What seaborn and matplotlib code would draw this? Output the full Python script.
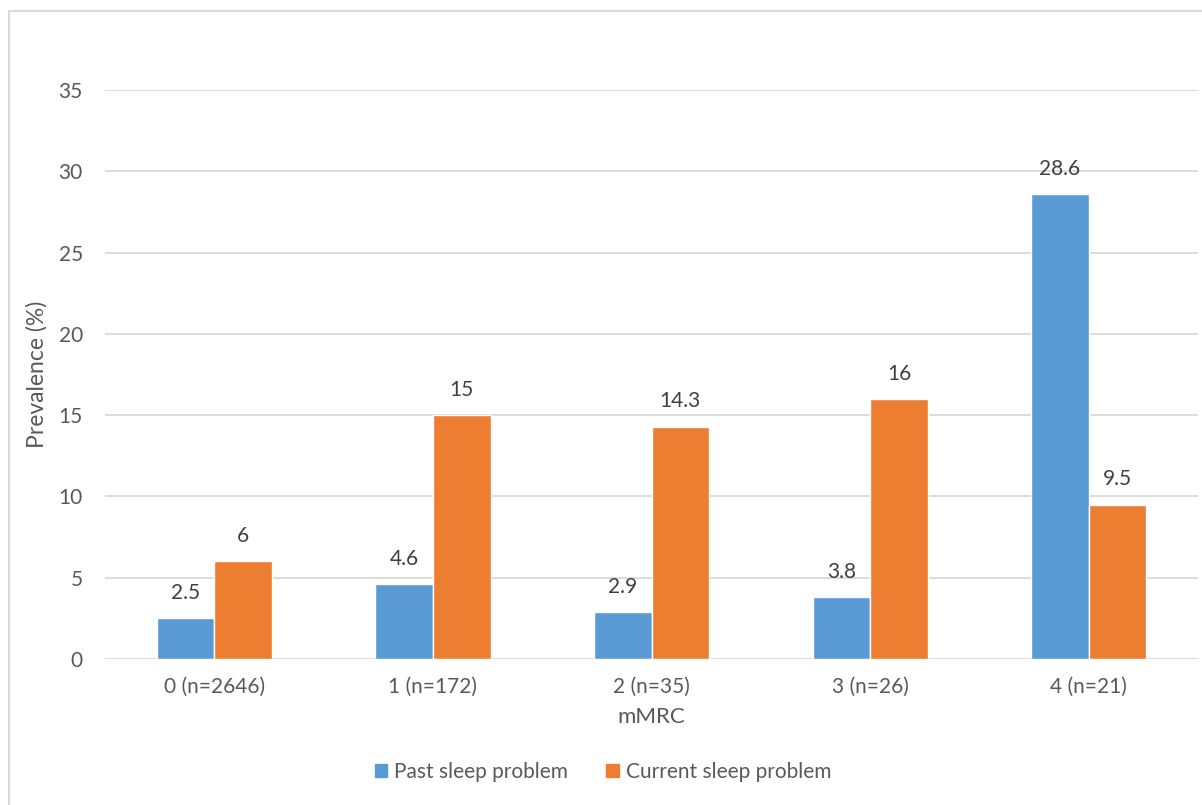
import matplotlib
matplotlib.use("Agg")
import matplotlib.pyplot as plt
import matplotlib.patches as mpatches
import pandas as pd
import seaborn as sns

categories = ['0 (n=2646)', '1 (n=172)', '2 (n=35)', '3 (n=26)', '4 (n=21)']
past_sleep = [2.5, 4.6, 2.9, 3.8, 28.6]
current_sleep = [6, 15, 14.3, 16, 9.5]
series_names = ['Past sleep problem', 'Current sleep problem']
y_ticks = [0, 5, 10, 15, 20, 25, 30, 35]

df = pd.DataFrame({
    'mMRC': categories * 2,
    'prevalence': past_sleep + current_sleep,
    'serie': [series_names[0]] * len(categories) + [series_names[1]] * len(categories),
})

sns.set_theme(style='white')
plt.rcParams['font.family'] = ['Lato', 'DejaVu Sans']
text_color = '#595959'

fig = plt.figure(figsize=(12.02, 8.05), dpi=100)
ax = fig.add_axes([0.0874, 0.1814, 0.9093, 0.7068])

palette = {series_names[0]: '#5B9BD5', series_names[1]: '#ED7D31'}
sns.barplot(data=df, x='mMRC', y='prevalence', hue='serie', palette=palette,
            width=0.527, saturation=1, ax=ax, legend=False)

for cont in ax.containers:
    ax.bar_label(cont, fmt='%g', padding=11, fontsize=15, color='#404040')

ax.set_ylim(0, 35)
ax.set_xlim(-0.5, 4.5)
ax.set_yticks(y_ticks)
ax.yaxis.grid(True, color='#D9D9D9', linewidth=1.3)
ax.set_axisbelow(True)
for s in ax.spines.values():
    s.set_visible(False)
ax.tick_params(axis='both', length=0, labelsize=15, labelcolor=text_color)
ax.tick_params(axis='y', pad=16)
ax.tick_params(axis='x', pad=13)
ax.set_xlabel('mMRC', fontsize=16, color=text_color, labelpad=7)
ax.set_ylabel('Prevalence (%)', fontsize=16.5, color=text_color, labelpad=8)

handles = [mpatches.Patch(color=palette[n], label=n) for n in series_names]
fig.legend(handles=handles, loc='center', bbox_to_anchor=(603 / 1202, 1 - 772 / 805), ncol=2,
           frameon=False, fontsize=15, handlelength=0.6, handleheight=0.6,
           handletextpad=0.34, columnspacing=1.8, labelcolor=text_color)

# light frame around the chart area
fig.patches.append(mpatches.Rectangle((9 / 1202, -0.1), 1.2, 1.1 - 11 / 805,
                                      transform=fig.transFigure, fill=False,
                                      edgecolor='#D9D9D9', linewidth=1.5))

fig.savefig('out.png', dpi=100, facecolor='white')
